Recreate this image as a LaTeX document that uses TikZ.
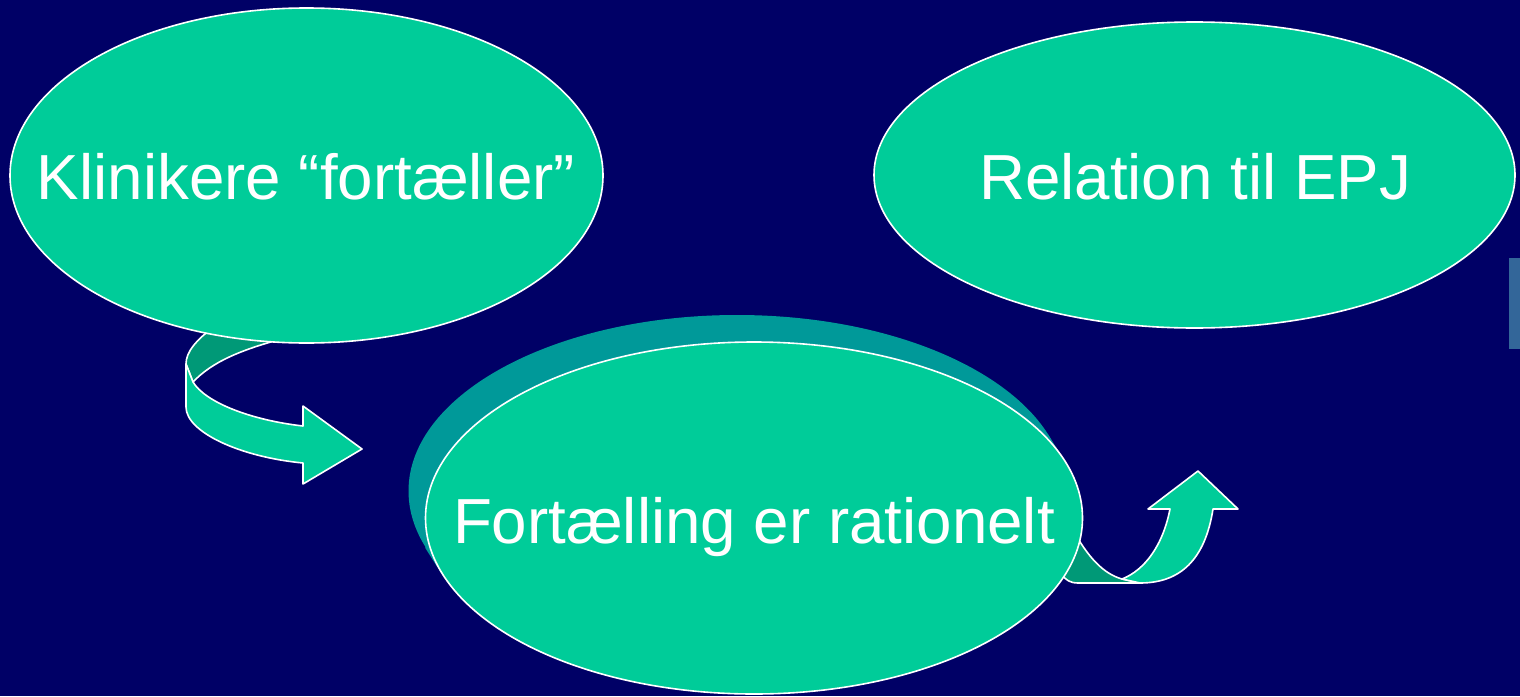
\documentclass[tikz,border=0pt]{standalone}
\usepackage{fontspec}
\setmainfont{Liberation Sans}
\usetikzlibrary{shapes.geometric}
\definecolor{navy}{HTML}{000066}
\definecolor{bubblefill}{HTML}{00CC99}
\definecolor{shadowteal}{HTML}{009999}
\definecolor{bandback}{HTML}{009977}
\definecolor{sidebar}{HTML}{336699}
\tikzset{
  bubble/.style={ellipse, draw=white, line width=0.8pt, fill=bubblefill, inner sep=0pt},
  bubbletext/.style={anchor=base, text=white, inner sep=0pt, font=\fontsize{31.85pt}{38pt}\selectfont},
  bandfront/.style={draw=white, line width=0.8pt, fill=bubblefill, line join=round},
  bandbackside/.style={draw=white, line width=0.8pt, fill=bandback, line join=round},
}
\begin{document}
\begin{tikzpicture}[x=0.5pt,y=-0.5pt]
% background
\fill[navy] (0,0) rectangle (1520,696);
\useasboundingbox (0,0) rectangle (1520,696);
\fill[sidebar] (1509,258) rectangle (1520,349);

% left curved arrow (behind bubble 1)
\path[bandbackside] (215,326) .. controls (196,340) and (186,352) .. (186,364)
  -- (193,382) .. controls (212,362) and (240,350) .. (285,338) -- cycle;
\path[bandfront] (186,364) -- (186,407) .. controls (186,432) and (240,457) .. (303,463)
  -- (303,484) -- (362,449) -- (303,406) -- (303,426)
  .. controls (250,420) and (205,402) .. (193,382) -- cycle;

% right curved arrow (behind bubble 3)
\path[bandbackside] (1072,528) .. controls (1088,558) and (1104,574) .. (1122,579)
  -- (1140,583) -- (1078,583) .. controls (1070,583) and (1066,580) .. (1062,575) -- cycle;
\path[bandfront] (1122,579) .. controls (1145,570) and (1163,545) .. (1170,509)
  -- (1148,509) -- (1198,471) -- (1238,509) -- (1213,509)
  .. controls (1205,560) and (1180,583) .. (1140,583) -- cycle;

% extruded shadow of bubble 3
\fill[shadowteal] (737,491) ellipse [x radius=328.5, y radius=176];
\fill[shadowteal] (1065,461.5) -- (1048,434.5) -- (425,547.5) -- (442,574.5) -- cycle;

% bubbles
\node[bubble, minimum width=296.5pt, minimum height=167.5pt] (klin) at (306.5,175.5) {};
\node[bubble, minimum width=320.5pt, minimum height=153pt] (epj) at (1194.5,175) {};
\node[bubble, minimum width=328.5pt, minimum height=176pt] (fort) at (754,518) {};

% texts
\node[bubbletext] (klintext) at (306,199) {Klinikere “fortæller”};
\node[bubbletext] (epjtext) at (1195,199) {Relation til EPJ};
\node[bubbletext] (forttext) at (754,543) {Fortælling er rationelt};
\end{tikzpicture}
\end{document}
